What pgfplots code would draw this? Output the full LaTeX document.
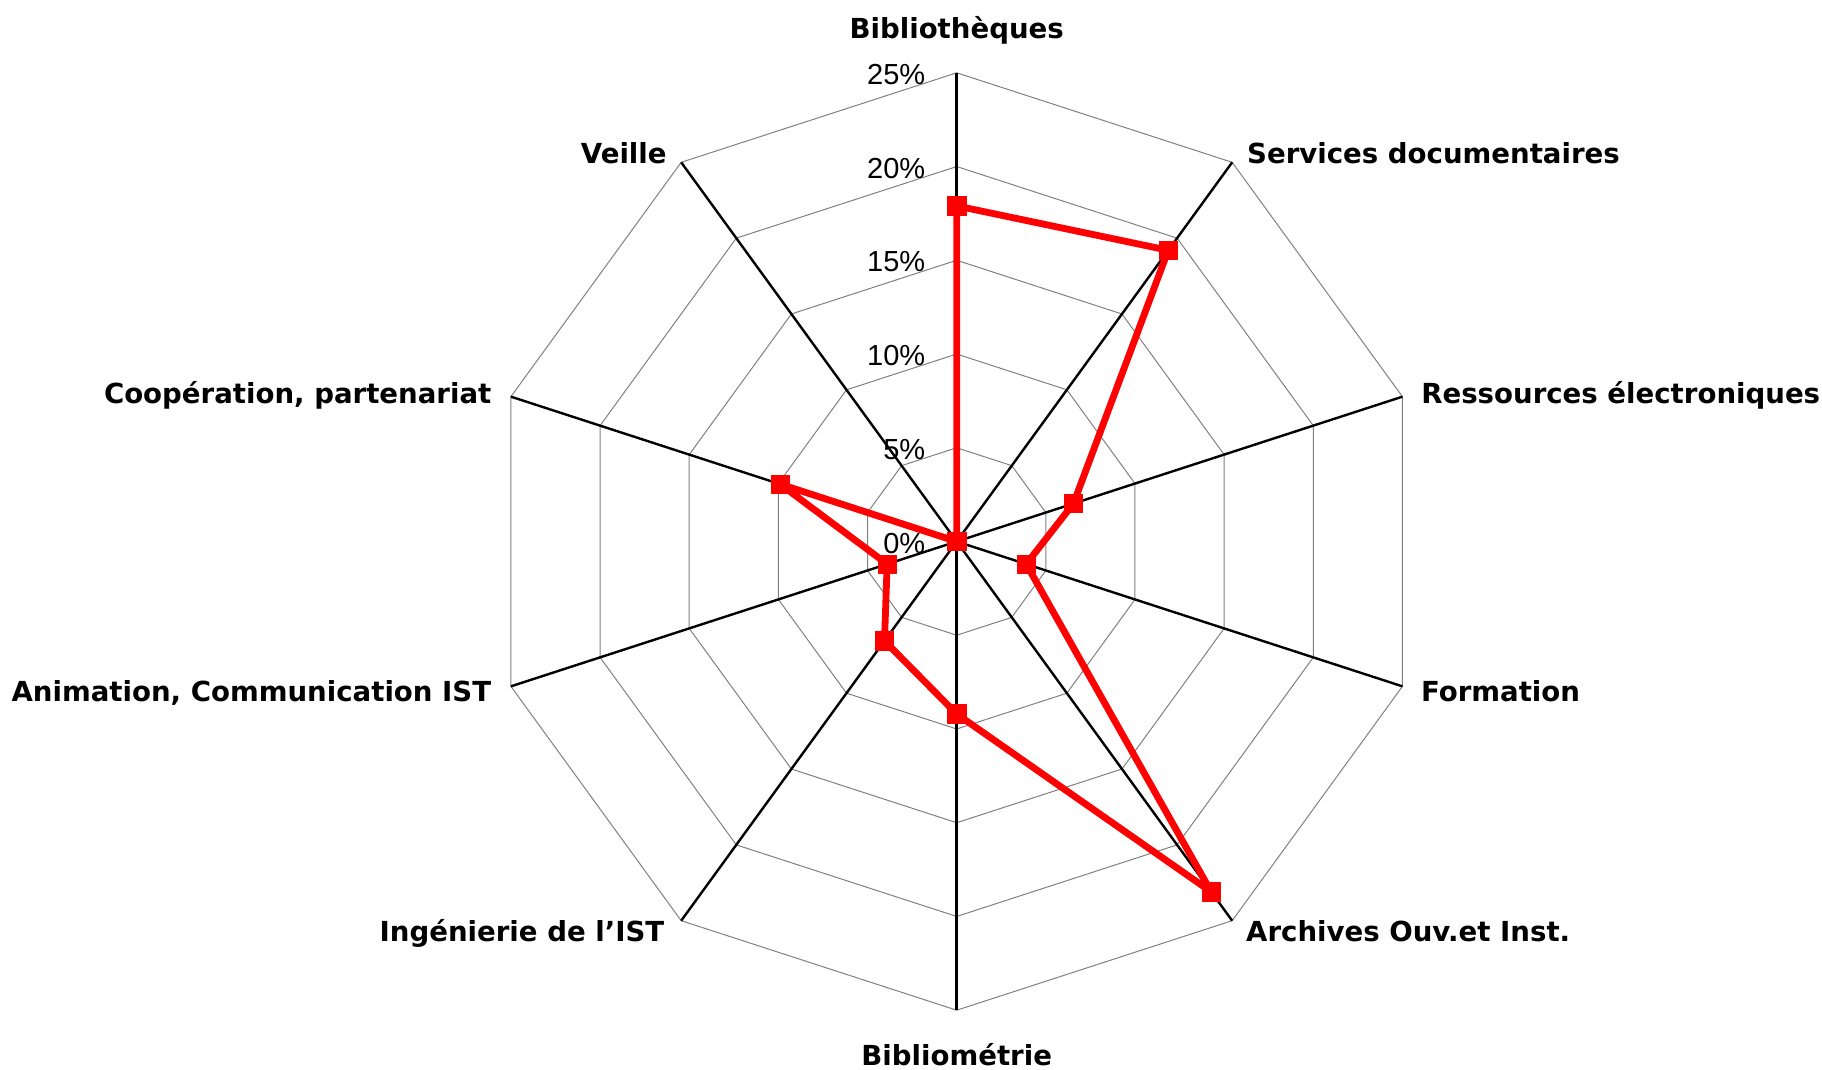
\documentclass[border=0pt]{standalone}
\usepackage{pgfplots}
\pgfplotsset{compat=1.18}
\usepgfplotslibrary{polar}
\usepackage{fontspec}
\setmainfont{DejaVu Sans}
\newfontfamily\arialf{Liberation Sans}
\definecolor{ringgray}{RGB}{128,128,128}
\definecolor{serred}{RGB}{255,0,0}
\tikzset{
  catlabel/.style={font=\fontsize{13.8}{16}\selectfont\bfseries, inner sep=0pt, text=black},
  ticklab/.style={font=\arialf\fontsize{14.5}{17}\selectfont, inner sep=0pt, anchor=base east, xshift=-15.5pt, yshift=-5.85pt},
}
\begin{document}
\begin{tikzpicture}
\useasboundingbox (-478.35pt,-264.25pt) rectangle (432.65pt,270.75pt);
\begin{polaraxis}[
  at={(0,0)}, anchor=origin,
  scale only axis, width=468.7pt, height=468.7pt,
  ymin=0, ymax=25, xmin=0, xmax=360,
  hide axis, xtick=\empty, ytick=\empty,
  clip=false,
]
% rings
\addplot[ringgray, line width=0.5pt, mark=none] coordinates {(90,5) (54,5) (18,5) (342,5) (306,5) (270,5) (234,5) (198,5) (162,5) (126,5) (90,5)};
\addplot[ringgray, line width=0.5pt, mark=none] coordinates {(90,10) (54,10) (18,10) (342,10) (306,10) (270,10) (234,10) (198,10) (162,10) (126,10) (90,10)};
\addplot[ringgray, line width=0.5pt, mark=none] coordinates {(90,15) (54,15) (18,15) (342,15) (306,15) (270,15) (234,15) (198,15) (162,15) (126,15) (90,15)};
\addplot[ringgray, line width=0.5pt, mark=none] coordinates {(90,20) (54,20) (18,20) (342,20) (306,20) (270,20) (234,20) (198,20) (162,20) (126,20) (90,20)};
\addplot[ringgray, line width=0.5pt, mark=none] coordinates {(90,25) (54,25) (18,25) (342,25) (306,25) (270,25) (234,25) (198,25) (162,25) (126,25) (90,25)};
% spokes
\addplot[black, line width=1.2pt, mark=none] coordinates {(90,0) (90,25)};
\addplot[black, line width=1.2pt, mark=none] coordinates {(54,0) (54,25)};
\addplot[black, line width=1.2pt, mark=none] coordinates {(18,0) (18,25)};
\addplot[black, line width=1.2pt, mark=none] coordinates {(342,0) (342,25)};
\addplot[black, line width=1.2pt, mark=none] coordinates {(306,0) (306,25)};
\addplot[black, line width=1.2pt, mark=none] coordinates {(270,0) (270,25)};
\addplot[black, line width=1.2pt, mark=none] coordinates {(234,0) (234,25)};
\addplot[black, line width=1.2pt, mark=none] coordinates {(198,0) (198,25)};
\addplot[black, line width=1.2pt, mark=none] coordinates {(162,0) (162,25)};
\addplot[black, line width=1.2pt, mark=none] coordinates {(126,0) (126,25)};
% data
\addplot[serred, line width=3.4pt, line join=round, mark=square*, mark size=4.6pt,
  mark options={fill=serred, draw=serred, line width=0.3pt}] coordinates {
  (90,17.9) (54,19.2) (18,6.55) (342,3.9) (306,23.1) (270,9.2) (234,6.55) (198,3.9) (162,9.9) (126,0) (90,17.9)};
% tick labels
\node[ticklab] at (axis cs:90,0) {0\%};
\node[ticklab] at (axis cs:90,5) {5\%};
\node[ticklab] at (axis cs:90,10) {10\%};
\node[ticklab] at (axis cs:90,15) {15\%};
\node[ticklab] at (axis cs:90,20) {20\%};
\node[ticklab] at (axis cs:90,25) {25\%};
% category labels
\node[catlabel, anchor=base, yshift=17.3pt] at (axis cs:90,25) {Bibliothèques};
\node[catlabel, anchor=base west, xshift=7.3pt, yshift=-0.8pt] at (axis cs:54,25) {Services documentaires};
\node[catlabel, anchor=base west, xshift=9.25pt, yshift=-3.2pt] at (axis cs:18,25) {Ressources électroniques};
\node[catlabel, anchor=base west, xshift=9.1pt, yshift=-7.5pt] at (axis cs:342,25) {Formation};
\node[catlabel, anchor=base west, xshift=6.8pt, yshift=-10.2pt] at (axis cs:306,25) {Archives Ouv.et Inst.};
\node[catlabel, anchor=base, yshift=-27.75pt] at (axis cs:270,25) {Bibliométrie};
\node[catlabel, anchor=base east, xshift=-8.25pt, yshift=-10.2pt] at (axis cs:234,25) {Ingénierie de l’IST};
\node[catlabel, anchor=base east, xshift=-9.7pt, yshift=-7.5pt] at (axis cs:198,25) {Animation, Communication IST};
\node[catlabel, anchor=base east, xshift=-9.6pt, yshift=-3.2pt] at (axis cs:162,25) {Coopération, partenariat};
\node[catlabel, anchor=base east, xshift=-7.1pt, yshift=-0.8pt] at (axis cs:126,25) {Veille};
\end{polaraxis}
\end{tikzpicture}
\end{document}
